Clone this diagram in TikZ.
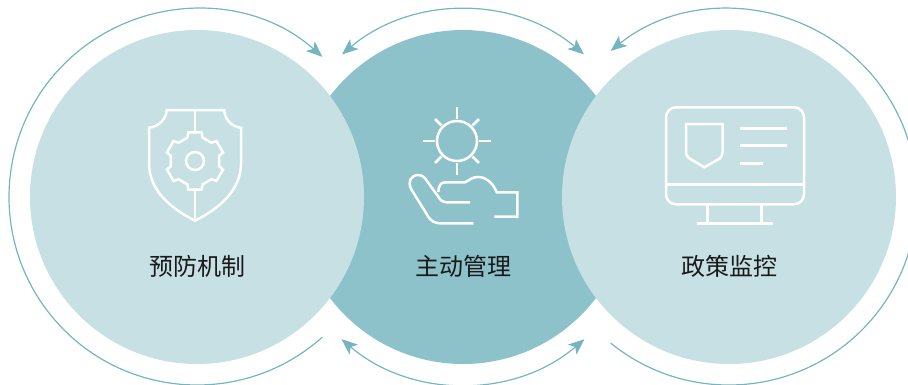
\documentclass[tikz,border=0pt]{standalone}
\usepackage{fontspec}
\setmainfont{Noto Sans CJK SC}
\usetikzlibrary{arrows.meta}
\definecolor{palecol}{HTML}{C7E0E4}
\definecolor{midcol}{HTML}{8DC2CB}
\definecolor{arccol}{HTML}{74B5C0}
\tikzset{
	sidedisc/.style={circle, inner sep=0pt, minimum size=334pt, fill=palecol},
	middisc/.style={circle, inner sep=0pt, minimum size=334pt, fill=midcol},
	caption/.style={inner sep=0pt, font=\fontsize{24pt}{28pt}\selectfont, text=black!90},
	iconline/.style={draw=white, line width=2.5pt},
	ringarc/.style={draw=arccol, line width=1.2pt},
	ringtip/.style={>={Stealth[length=16pt, width=13pt, inset=4pt]}},
}

\begin{document}
\begin{tikzpicture}[x=1pt, y=-1pt]
	\useasboundingbox (0,0) rectangle (908,384);
	\clip (0,0) rectangle (908,384);
	
	\node (mid) [middisc] at (463,197) {};
	\node (left) [sidedisc] at (197,197) {};
	\node (right) [sidedisc] at (729,197) {};
	
	\node (leftlabel) [caption] at (197,266.5) {预防机制};
	\node (midlabel) [caption] at (463,266.5) {主动管理};
	\node (rightlabel) [caption] at (729,266.5) {政策监控};
	
	\begin{scope}[ringarc, ringtip]
		\draw[->] (left) ++(48.2:188) arc[start angle=48.2, end angle=311.8, radius=188];
		\draw[<->] (mid) ++(229.7:187) arc[start angle=229.7, end angle=310.3, radius=187];
		\draw[<->] (mid) ++(130.5:187) arc[start angle=130.5, end angle=49.5, radius=187];
		\draw[->] (right) ++(129:188) arc[start angle=129, end angle=-129, radius=188];
	\end{scope}
	
	% shield with gear
	\begin{scope}[iconline]
		\draw (166.7,110) -- (224.3,110) .. controls (224.3,119) and (232,127) .. (241,127.7)
			-- (241,163) .. controls (241,190) and (220,208) .. (195,220.7)
			.. controls (170,208) and (149,190) .. (149,163) -- (149,127.7)
			.. controls (158,127) and (166.7,119) .. (166.7,110) -- cycle;
		\coordinate (gearc) at (195,161);
		\draw (195,110) -- (195,132);
		\draw (195,190) -- (195,220.7);
		\draw ([shift={(12:24.6)}]gearc) \foreach \a in {30,90,...,330} {
			-- ([shift={(\a-18:24.6)}]gearc) -- ([shift={(\a-13:29.3)}]gearc)
			-- ([shift={(\a+13:29.3)}]gearc) -- ([shift={(\a+18:24.6)}]gearc)
		} -- cycle;
		\draw (gearc) circle[radius=9];
	\end{scope}
	
	% sun and hand
	\begin{scope}[iconline]
		\coordinate (sunc) at (457,141);
		\draw (sunc) circle[radius=20];
		\foreach \a in {0,90,180,270} \draw ([shift={(\a:22)}]sunc) -- ([shift={(\a:34)}]sunc);
		\foreach \a in {45,135,225,315} \draw ([shift={(\a:22)}]sunc) -- ([shift={(\a:31)}]sunc);
		\draw (473.3,223.3) -- (440,223.3) .. controls (435,223.3) and (431,221) .. (428.3,216.7)
			-- (411.7,190) .. controls (407,182) and (411,175) .. (418.3,175)
			.. controls (421,175) and (423,176) .. (425,178.3)
			-- (438.3,196.7) .. controls (440,200) and (443,202.3) .. (446.7,202.3) -- (470,202.3);
		\draw (438.3,192) .. controls (438.3,186) and (441,182.3) .. (445,182.3) -- (465,182.3)
			.. controls (470,180) and (472,177) .. (478,177)
			.. controls (486,177) and (493,183) .. (496.7,192.3)
			-- (517.3,192.3) -- (517.3,216.7) -- (494.3,216.7);
	\end{scope}
	
	% monitor
	\begin{scope}[iconline]
		\draw[rounded corners=10pt] (666,107.3) rectangle (804,204.3);
		\draw (666,184.3) -- (804,184.3);
		\draw (707.7,204.3) -- (707.7,223.3);
		\draw (761.7,204.3) -- (761.7,223.3);
		\draw (696.7,223.3) -- (773.3,223.3);
		\draw (686,124) -- (722.7,124) -- (722.7,151.7) .. controls (722.7,155) and (721,157) .. (720,158.3)
			-- (704.3,167.3) -- (689.3,158.3) .. controls (687,157) and (686,155) .. (686,151.7) -- cycle;
		\draw (740,128.3) -- (786.7,128.3);
		\draw (740,145.7) -- (786.7,145.7);
		\draw (740,163.3) -- (763.3,163.3);
	\end{scope}
	
\end{tikzpicture}
\end{document}
